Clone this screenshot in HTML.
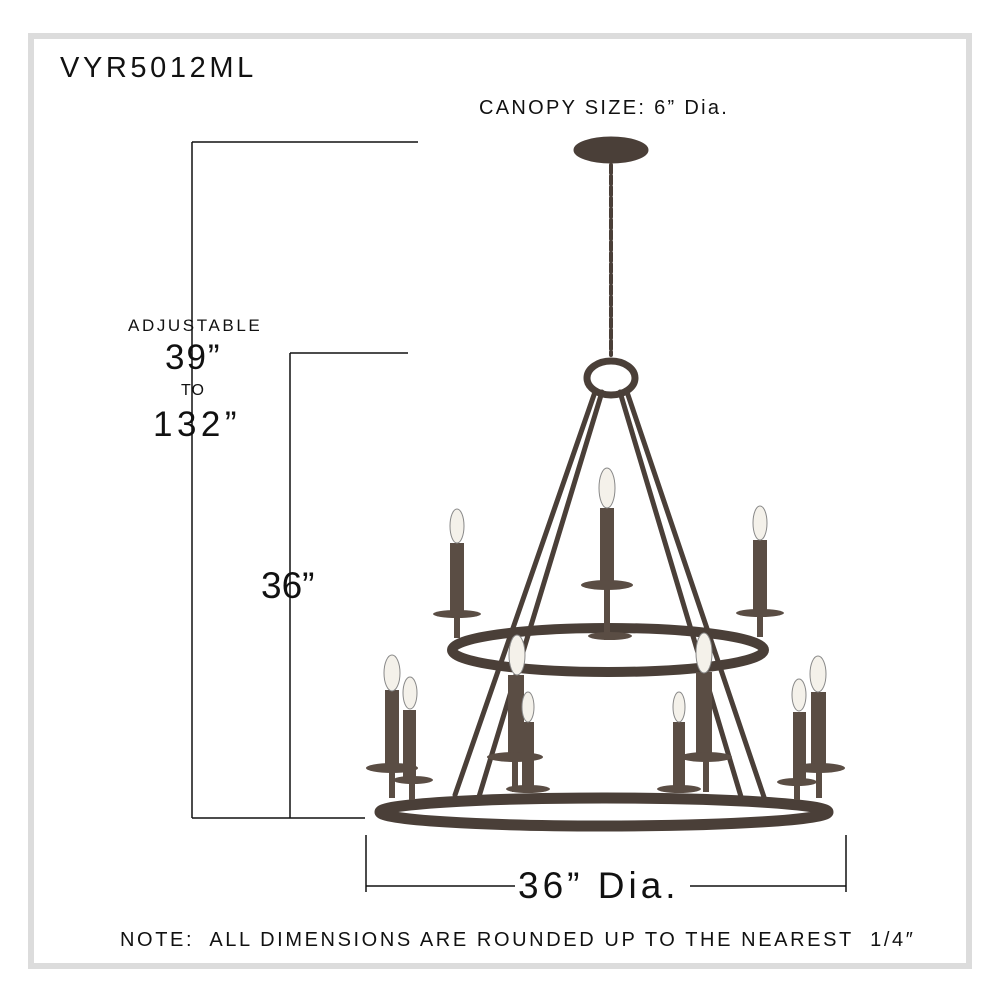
<!DOCTYPE html>
<html><head><meta charset="utf-8"><style>
html,body{margin:0;padding:0;background:#fff}
body{width:1000px;height:1000px;position:relative;overflow:hidden;font-family:"Liberation Sans",sans-serif;color:#111}
.t{position:absolute;white-space:nowrap}
</style></head><body>
<div style="position:absolute;left:28px;top:33px;width:932px;height:924px;border:6px solid #dcdcdc"></div>
<div class="t" style="left:60px;top:52px;font-size:29px;letter-spacing:3.6px">VYR5012ML</div>
<div class="t" style="left:479px;top:97px;font-size:20px;letter-spacing:2.3px">CANOPY SIZE: 6” Dia.</div>
<div class="t" style="left:128px;top:316px;font-size:17px;letter-spacing:2.6px">ADJUSTABLE</div>
<div class="t" style="left:165px;top:338px;font-size:35px;letter-spacing:2px">39”</div>
<div class="t" style="left:181px;top:382px;font-size:16px;letter-spacing:1px">TO</div>
<div class="t" style="left:153px;top:405px;font-size:35px;letter-spacing:4.5px">132”</div>
<div class="t" style="left:261px;top:565px;font-size:37px">36”</div>
<div class="t" style="left:518px;top:865px;font-size:37px;letter-spacing:4px">36” Dia.</div>
<div class="t" style="left:120px;top:929px;font-size:20px;letter-spacing:2.6px">NOTE:&nbsp; ALL DIMENSIONS ARE ROUNDED UP TO THE NEAREST&nbsp; 1/4″</div>
<svg width="1000" height="1000" style="position:absolute;left:0;top:0">
<g stroke="#111" stroke-width="1.5" fill="none">
<path d="M192 142H418M192 142V818M192 818H365M290 353H408M290 353V818"/>
<path d="M366 835V892M846 835V892M366 886H515M690 886H846"/>
</g>
<g stroke="#4a3f38" fill="none" stroke-linecap="round">
<ellipse cx="611" cy="150" rx="37" ry="13" fill="#4a3f38"/>
<path d="M611 165V355" stroke-width="4" stroke-dasharray="8 3"/>
<ellipse cx="611" cy="378" rx="24" ry="17" stroke-width="7"/>
<path d="M595 392L455 795M602 392L478 800M627 392L765 800M620 392L742 800" stroke-width="5"/>
<ellipse cx="608" cy="650" rx="156" ry="22" stroke-width="10"/>
<ellipse cx="604" cy="812" rx="224" ry="14" stroke-width="11"/>
</g>
<g fill="#5a4d44">
<rect x="450" y="543" width="14" height="68"/><ellipse cx="457" cy="614" rx="24" ry="4"/><rect x="454" y="614" width="6" height="24"/>
<rect x="600" y="508" width="14" height="75"/><ellipse cx="607" cy="585" rx="26" ry="5"/><rect x="604" y="585" width="6" height="55"/><ellipse cx="610" cy="636" rx="22" ry="4"/>
<rect x="753" y="540" width="14" height="70"/><ellipse cx="760" cy="613" rx="24" ry="4"/><rect x="757" y="613" width="6" height="24"/>
<rect x="385" y="690" width="14" height="78"/><ellipse cx="392" cy="768" rx="26" ry="5"/><rect x="389" y="768" width="6" height="30"/>
<rect x="403" y="710" width="13" height="70"/><ellipse cx="413" cy="780" rx="20" ry="4"/><rect x="409" y="780" width="6" height="20"/>
<rect x="508" y="675" width="16" height="80"/><ellipse cx="515" cy="757" rx="28" ry="5"/><rect x="512" y="757" width="6" height="35"/>
<rect x="522" y="722" width="12" height="65"/><ellipse cx="528" cy="789" rx="22" ry="4"/>
<rect x="673" y="722" width="12" height="65"/><ellipse cx="679" cy="789" rx="22" ry="4"/>
<rect x="696" y="672" width="16" height="84"/><ellipse cx="706" cy="757" rx="26" ry="5"/><rect x="703" y="757" width="6" height="35"/>
<rect x="793" y="712" width="13" height="68"/><ellipse cx="797" cy="782" rx="20" ry="4"/><rect x="794" y="782" width="6" height="18"/>
<rect x="811" y="692" width="15" height="76"/><ellipse cx="819" cy="768" rx="26" ry="5"/><rect x="816" y="768" width="6" height="30"/>
</g>
<g fill="#f4f1ea" stroke="#888" stroke-width="1">
<ellipse cx="457" cy="526" rx="7" ry="17"/><ellipse cx="607" cy="488" rx="8" ry="20"/><ellipse cx="760" cy="523" rx="7" ry="17"/>
<ellipse cx="392" cy="673" rx="8" ry="18"/><ellipse cx="410" cy="693" rx="7" ry="16"/><ellipse cx="517" cy="655" rx="8" ry="20"/><ellipse cx="528" cy="707" rx="6" ry="15"/>
<ellipse cx="679" cy="707" rx="6" ry="15"/><ellipse cx="704" cy="653" rx="8" ry="20"/><ellipse cx="799" cy="695" rx="7" ry="16"/><ellipse cx="818" cy="674" rx="8" ry="18"/>
</g>
</svg>
</body></html>
